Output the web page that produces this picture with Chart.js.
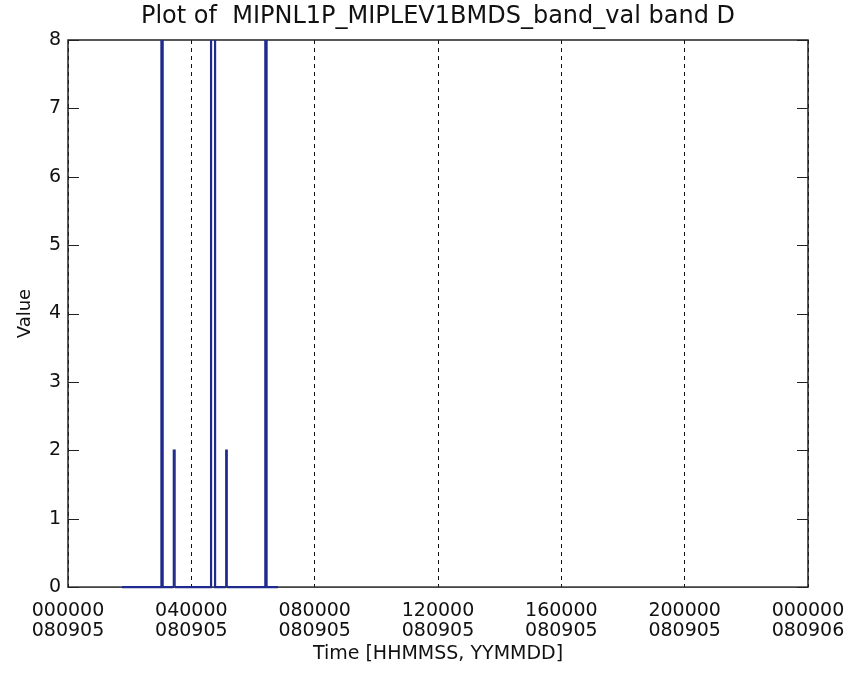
<!DOCTYPE html>
<html>
<head>
<meta charset="utf-8">
<script src="https://cdn.jsdelivr.net/npm/chart.js@4"></script>
<style>
  html, body { margin: 0; padding: 0; background: #fff; }
  #wrap { width: 857px; height: 675px; }
</style>
</head>
<body>
<div id="wrap"><canvas id="c" width="857" height="675"></canvas></div>
<script>
// time in hours since 000000 080905, value of band D
const timeHours = [1.75, 3.03, 3.03, 3.07, 3.07, 3.42, 3.42, 3.47, 3.47, 4.64, 4.64, 4.77, 4.77,
                   5.12, 5.12, 5.16, 5.16, 6.40, 6.40, 6.44, 6.44, 6.81];
const bandValues = [0, 0, 8.6, 8.6, 0, 0, 2, 2, 0, 0, 8.6, 8.6, 0,
                    0, 2, 2, 0, 0, 8.6, 8.6, 0, 0];
const xTickTimes = ['000000', '040000', '080000', '120000', '160000', '200000', '000000'];
const xTickDates = ['080905', '080905', '080905', '080905', '080905', '080905', '080906'];

const points = timeHours.map((t, i) => ({ x: t, y: bandValues[i] }));
const lineColor = '#1f2a8e';
const font = 'DejaVu Sans';

// frame around plot area and inward y ticks on both sides
const framePlugin = {
    id: 'frame',
    beforeDatasetsDraw(chart) {
        const { ctx, chartArea: a, scales } = chart;
        ctx.save();
        ctx.strokeStyle = '#222';
        ctx.lineWidth = 1.5;
        ctx.strokeRect(a.left, a.top, a.right - a.left, a.bottom - a.top);
        ctx.lineWidth = 1.2;
        scales.y.ticks.forEach(t => {
            const py = Math.round(scales.y.getPixelForValue(t.value)) + 0.5;
            ctx.beginPath();
            ctx.moveTo(a.left, py); ctx.lineTo(a.left + 11, py);
            ctx.moveTo(a.right - 11, py); ctx.lineTo(a.right, py);
            ctx.stroke();
        });
        ctx.restore();
    }
};

new Chart(document.getElementById('c'), {
    type: 'line',
    data: {
        datasets: [{
            data: points,
            borderColor: lineColor,
            borderWidth: 2.2,
            pointRadius: 0,
            tension: 0,
            clip: { left: 0, right: 0, top: 0, bottom: 3 },
            segment: {
                borderWidth: c => (Math.max(c.p0.parsed.y, c.p1.parsed.y) === 2 ? 1.5 : 2.2)
            }
        }]
    },
    options: {
        responsive: false,
        animation: false,
        layout: { padding: { left: 0, right: 49, top: 0, bottom: 11 } },
        plugins: {
            legend: { display: false },
            tooltip: { enabled: false },
            title: {
                display: true,
                fullSize: false,
                text: 'Plot of  MIPNL1P_MIPLEV1BMDS_band_val band D',
                color: '#111',
                font: { family: font, size: 24, weight: 'normal', lineHeight: 1.0 },
                padding: { top: 5, bottom: 11 }
            }
        },
        scales: {
            x: {
                type: 'linear',
                min: 0,
                max: 24,
                border: { display: false, dash: [4, 4] },
                grid: {
                    color: '#111',
                    lineWidth: 1,
                    drawTicks: true,
                    tickLength: 14,
                    tickColor: 'rgba(0,0,0,0)'
                },
                ticks: {
                    stepSize: 4,
                    padding: 0,
                    color: '#111',
                    maxRotation: 0,
                    font: { family: font, size: 19, lineHeight: 1.05 },
                    callback: (v, i) => [xTickTimes[i], xTickDates[i]]
                },
                title: {
                    display: true,
                    text: 'Time [HHMMSS, YYMMDD]',
                    color: '#111',
                    font: { family: font, size: 19, lineHeight: 1.0 },
                    padding: { top: 4, bottom: 0 }
                }
            },
            y: {
                min: 0,
                max: 8,
                border: { display: false },
                grid: { display: false, drawTicks: false },
                ticks: {
                    stepSize: 1,
                    padding: 7,
                    color: '#111',
                    font: { family: font, size: 19 }
                },
                title: {
                    display: true,
                    text: 'Value',
                    color: '#111',
                    font: { family: font, size: 18, lineHeight: 1.0 },
                    padding: { top: 16, bottom: 0 }
                },
                afterFit: s => { s.width = 68; }
            }
        }
    },
    plugins: [framePlugin]
});
</script>
</body>
</html>
